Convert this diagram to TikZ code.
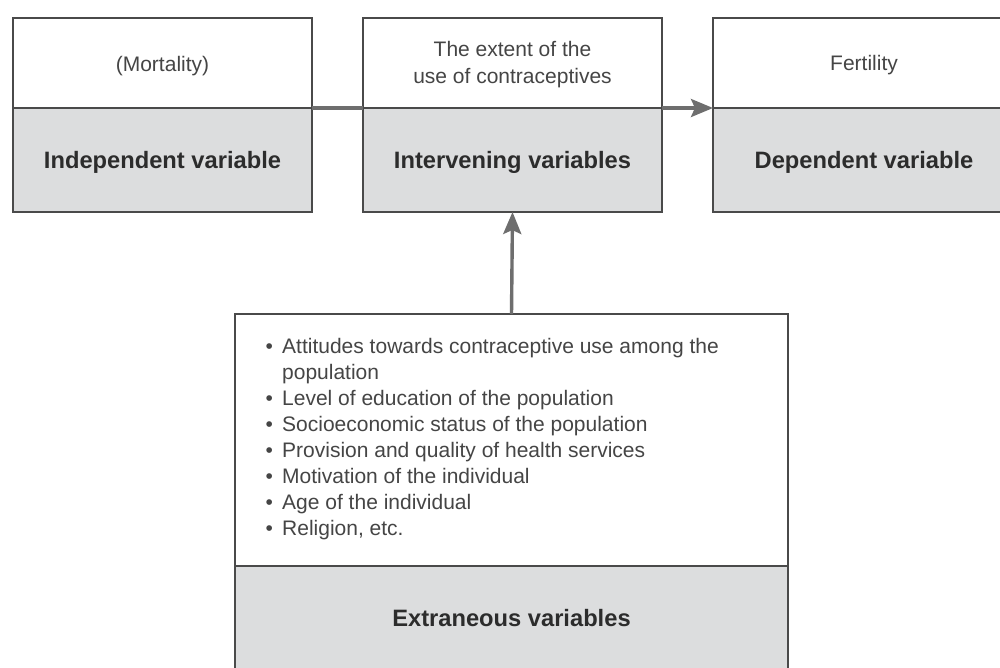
\documentclass[tikz,border=0pt]{standalone}
\usepackage{fontspec}
\setmainfont{Liberation Sans}
\usetikzlibrary{arrows.meta}
\definecolor{boxfill}{HTML}{DCDDDE}
\definecolor{boxline}{HTML}{4A4A4A}
\definecolor{arrowc}{HTML}{6E6E6E}
\definecolor{txtreg}{HTML}{454545}
\definecolor{txtbold}{HTML}{2C2C2C}
\begin{document}
\begin{tikzpicture}[x=1pt,y=-1pt,
  part/.style={draw=boxline, line width=1.6pt, inner sep=0pt, outer sep=0pt, anchor=north west},
  upper/.style={part, fill=white},
  lower/.style={part, fill=boxfill},
  lab/.style={anchor=base, inner sep=0pt, text=txtreg, font=\fontsize{21}{26}\selectfont},
  blab/.style={anchor=base, inner sep=0pt, text=txtbold, font=\fontsize{23.7}{28}\selectfont\bfseries},
  item/.style={anchor=base west, inner sep=0pt, text=txtreg, font=\fontsize{21}{26}\selectfont},
  conn/.style={draw=arrowc, line width=3.4pt},
  arr/.style={-{Stealth[length=22pt, width=18pt, inset=4pt]}}
]
\useasboundingbox (0,0) rectangle (1000,667);
\clip (0,0) rectangle (1000,667);
\fill[white] (0,0) rectangle (1000,667);

% boxes
\node[upper, minimum width=299pt, minimum height=90pt] (lefttop) at (13,18) {};
\node[lower, minimum width=299pt, minimum height=104pt] (leftbot) at (13,108) {};
\node[upper, minimum width=299pt, minimum height=90pt] (midtop) at (363,18) {};
\node[lower, minimum width=299pt, minimum height=104pt] (midbot) at (363,108) {};
\node[upper, minimum width=302pt, minimum height=90pt] (righttop) at (713,18) {};
\node[lower, minimum width=302pt, minimum height=104pt] (rightbot) at (713,108) {};
\node[upper, minimum width=553pt, minimum height=252pt] (exttop) at (235,314) {};
\node[lower, minimum width=553pt, minimum height=120pt] (extbot) at (235,566) {};

% labels
\node[lab] (mort) at (162.5,71) {(Mortality)};
\node[blab] (indep) at (162.5,168) {Independent variable};
\node[lab] (ext1) at (512.5,56) {The extent of the};
\node[lab] (ext2) at (512.5,83) {use of contraceptives};
\node[blab] (interv) at (512.5,168) {Intervening variables};
\node[lab] (fert) at (864,70) {Fertility};
\node[blab] (dep) at (864,168) {Dependent variable};
\node[blab] (extr) at (511.5,626) {Extraneous variables};

% bullet list
\node[item] (b1) at (265.5,353) {\makebox[16.5pt][l]{•}Attitudes towards contraceptive use among the};
\node[item] (b1b) at (265.5,379) {\hspace*{16.5pt}population};
\node[item] (b2) at (265.5,405) {\makebox[16.5pt][l]{•}Level of education of the population};
\node[item] (b3) at (265.5,431) {\makebox[16.5pt][l]{•}Socioeconomic status of the population};
\node[item] (b4) at (265.5,457) {\makebox[16.5pt][l]{•}Provision and quality of health services};
\node[item] (b5) at (265.5,483) {\makebox[16.5pt][l]{•}Motivation of the individual};
\node[item] (b6) at (265.5,509) {\makebox[16.5pt][l]{•}Age of the individual};
\node[item] (b7) at (265.5,535) {\makebox[16.5pt][l]{•}Religion, etc.};

% connectors
\draw[conn] (lefttop.south east) -- (midtop.south west);
\draw[conn, arr] (midtop.south east) -- (righttop.south west);
\draw[conn, arr] (exttop.north) -- (midbot.south);
\end{tikzpicture}
\end{document}
